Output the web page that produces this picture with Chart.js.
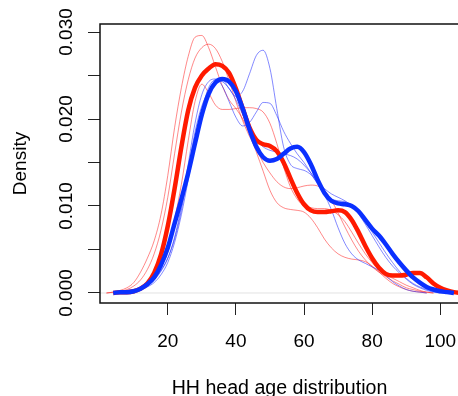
<!DOCTYPE html>
<html>
<head>
<meta charset="utf-8">
<script src="https://cdn.jsdelivr.net/npm/chart.js@4.4.1/dist/chart.umd.min.js"></script>
<style>
html, body { margin: 0; padding: 0; overflow: hidden; background: #ffffff; }
#wrap { width: 462px; height: 396px; }
</style>
</head>
<body>
<div id="wrap"><canvas id="c" width="462" height="396"></canvas></div>
<script>
// ---- data (age grid, density values) ----
const ageGrid = [2,4,6,8,10,12,14,16,18,20,22,24,26,28,30,32,34,36,38,40,42,44,46,48,50,52,54,56,58,60,62,64,66,68,70,72,74,76,78,80,82,84,86,88,90,92,94,96,98,100,102,104,106];

const redMean = [null,0,0.0001,0.0001,0.0002,0.0005,0.0011,0.0023,0.0044,0.0077,0.0120,0.0168,0.0210,0.0236,0.0250,0.0258,0.0263,0.0261,0.0253,0.0235,0.0212,0.0190,0.0176,0.0171,0.0169,0.0163,0.0150,0.0132,0.0115,0.0102,0.0095,0.0093,0.0093,0.0094,0.0095,0.0093,0.0084,0.0070,0.0054,0.0040,0.0029,0.0022,0.0020,0.0020,0.0021,0.0023,0.0023,0.0018,0.0011,0.0006,0.0003,0.0001,0];

const blueMean = [null,0,0.0001,0.0001,0.0002,0.0005,0.0010,0.0018,0.0032,0.0052,0.0080,0.0108,0.0138,0.0172,0.0205,0.0229,0.0242,0.0246,0.0243,0.0232,0.0212,0.0188,0.0168,0.0156,0.0152,0.0154,0.0160,0.0166,0.0168,0.0162,0.0148,0.0130,0.0115,0.0106,0.0103,0.0102,0.0100,0.0094,0.0084,0.0074,0.0066,0.0056,0.0045,0.0035,0.0026,0.0018,0.0012,0.0007,0.0004,0.0002,0.0001,0,null];

const redA = [0,0.0001,0.0003,0.0006,0.0012,0.0024,0.0040,0.0060,0.0090,0.0135,0.0190,0.0236,0.0272,0.0294,0.0296,0.0282,0.0260,0.0238,0.0222,0.0212,0.0200,0.0183,0.0162,0.0140,0.0118,0.0104,0.0098,0.0096,0.0095,0.0093,0.0086,0.0075,0.0062,0.0052,0.0045,0.0041,0.0039,0.0038,0.0036,0.0031,0.0024,0.0017,0.0011,0.0007,0.0004,0.0002,0.0001,0,null,null,null,null,null];

const redB = [0,0.0001,0.0002,0.0004,0.0008,0.0015,0.0027,0.0045,0.0072,0.0110,0.0160,0.0208,0.0245,0.0270,0.0282,0.0286,0.0281,0.0266,0.0244,0.0220,0.0198,0.0180,0.0165,0.0150,0.0138,0.0128,0.0122,0.0120,0.0121,0.0123,0.0124,0.0123,0.0118,0.0107,0.0092,0.0076,0.0061,0.0048,0.0038,0.0030,0.0024,0.0019,0.0014,0.0010,0.0006,0.0004,0.0002,0.0001,0,null,null,null,null];

const redC = [null,0,0.0001,0.0001,0.0002,0.0005,0.0010,0.0020,0.0034,0.0055,0.0085,0.0125,0.0175,0.0220,0.0240,0.0230,0.0216,0.0211,0.0211,0.0212,0.0213,0.0213,0.0212,0.0208,0.0195,0.0172,0.0145,0.0122,0.0108,0.0100,0.0098,0.0097,0.0097,0.0095,0.0090,0.0082,0.0070,0.0057,0.0045,0.0035,0.0027,0.0021,0.0017,0.0013,0.0009,0.0006,0.0003,0.0001,0,null,null,null,null];

const blueD = [null,0,0.0001,0.0002,0.0003,0.0006,0.0010,0.0016,0.0026,0.0040,0.0062,0.0095,0.0140,0.0185,0.0215,0.0232,0.0244,0.0245,0.0235,0.0226,0.0232,0.0252,0.0273,0.0279,0.0258,0.0212,0.0168,0.0148,0.0143,0.0141,0.0136,0.0126,0.0113,0.0096,0.0075,0.0057,0.0045,0.0038,0.0034,0.0030,0.0026,0.0020,0.0013,0.0008,0.0004,0.0002,0.0001,0,null,null,null,null,null];

const blueE = [null,0,0.0001,0.0002,0.0003,0.0005,0.0009,0.0015,0.0025,0.0040,0.0064,0.0100,0.0148,0.0195,0.0228,0.0243,0.0246,0.0238,0.0220,0.0202,0.0192,0.0196,0.0208,0.0219,0.0218,0.0204,0.0186,0.0172,0.0160,0.0150,0.0138,0.0125,0.0114,0.0108,0.0106,0.0105,0.0101,0.0093,0.0082,0.0070,0.0058,0.0046,0.0035,0.0025,0.0017,0.0011,0.0007,0.0004,0.0002,0.0001,0,null,null];

const blueF = [null,0,0.0001,0.0001,0.0002,0.0004,0.0007,0.0012,0.0021,0.0035,0.0058,0.0090,0.0130,0.0172,0.0210,0.0236,0.0245,0.0243,0.0235,0.0222,0.0205,0.0188,0.0176,0.0168,0.0164,0.0162,0.0160,0.0158,0.0154,0.0147,0.0138,0.0128,0.0120,0.0114,0.0110,0.0106,0.0100,0.0091,0.0079,0.0066,0.0053,0.0041,0.0031,0.0023,0.0016,0.0010,0.0006,0.0003,0.0001,0,null,null,null];

const xTickValues = [20, 40, 60, 80, 100];
const yTickValues = [0, 0.005, 0.010, 0.015, 0.020, 0.025, 0.030];
const yTickLabels = ['0.000', '', '0.010', '', '0.020', '', '0.030'];
const xTitle = 'HH head age distribution';
const yTitle = 'Density';

// ---- chart ----
const FONT = "19px 'Liberation Sans', Arial, Helvetica, sans-serif";
const TITLE_FONT = "19.6px 'Liberation Sans', Arial, Helvetica, sans-serif";
const pts = arr => ageGrid.map((x, i) => ({ x: x, y: arr[i] }));
const thin = (arr, col) => ({ data: pts(arr), borderColor: col, borderWidth: 1, pointRadius: 0, cubicInterpolationMode: 'monotone', spanGaps: false });

const decor = {
  id: 'decor',
  beforeDatasetsDraw(chart) {
    const { ctx, chartArea: a, scales: { y } } = chart;
    const py = y.getPixelForValue(0);
    ctx.save();
    ctx.strokeStyle = '#e2e2e2';
    ctx.lineWidth = 1;
    ctx.beginPath();
    ctx.moveTo(a.left, py);
    ctx.lineTo(a.right, py);
    ctx.stroke();
    ctx.restore();
  },
  afterDraw(chart) {
    const { ctx, chartArea: a, scales: { x, y } } = chart;
    ctx.save();
    ctx.strokeStyle = '#111';
    ctx.lineWidth = 1.5;
    ctx.strokeRect(a.left, a.top, a.right - a.left, a.bottom - a.top);
    ctx.fillStyle = '#000';
    ctx.font = FONT;
    ctx.textAlign = 'center';
    ctx.textBaseline = 'alphabetic';
    x.ticks.forEach(t => {
      ctx.fillText(String(t.value), x.getPixelForValue(t.value), 347);
    });
    yTickValues.forEach((v, i) => {
      if (!yTickLabels[i]) return;
      ctx.save();
      ctx.translate(72, y.getPixelForValue(v));
      ctx.rotate(-Math.PI / 2);
      ctx.fillText(yTickLabels[i], 0, 0);
      ctx.restore();
    });
    ctx.font = TITLE_FONT;
    ctx.fillText(xTitle, (a.left + a.right) / 2, 393.5);
    ctx.save();
    ctx.translate(25.5, (a.top + a.bottom) / 2);
    ctx.rotate(-Math.PI / 2);
    ctx.font = FONT;
    ctx.fillText(yTitle, 0, 0);
    ctx.restore();
    ctx.restore();
  }
};

new Chart(document.getElementById('c'), {
  type: 'line',
  data: {
    datasets: [
      Object.assign(thin(blueMean, '#0a30ff'), { borderWidth: 4.5 }),
      Object.assign(thin(redMean, '#ff1a00'), { borderWidth: 4.5 }),
      thin(blueD, 'rgba(30,40,255,0.55)'),
      thin(blueE, 'rgba(30,40,255,0.55)'),
      thin(blueF, 'rgba(30,40,255,0.55)'),
      thin(redA, 'rgba(255,20,20,0.5)'),
      thin(redB, 'rgba(255,20,20,0.5)'),
      thin(redC, 'rgba(255,20,20,0.5)')
    ]
  },
  options: {
    responsive: false,
    devicePixelRatio: 1,
    animation: false,
    events: [],
    layout: { padding: { top: 24, right: 3, left: 0, bottom: 0 } },
    plugins: { legend: { display: false }, tooltip: { enabled: false } },
    scales: {
      x: {
        type: 'linear',
        min: 0.1,
        max: 105.5,
        afterBuildTicks: s => { s.ticks = xTickValues.map(v => ({ value: v })); },
        afterFit: s => { s.height = 93; },
        ticks: { display: false },
        grid: { drawOnChartArea: false, drawTicks: true, tickLength: 12, color: '#222', lineWidth: 1 },
        border: { display: false }
      },
      y: {
        type: 'linear',
        min: -0.00115,
        max: 0.03092,
        afterBuildTicks: s => { s.ticks = yTickValues.map(v => ({ value: v })); },
        afterFit: s => { s.width = 100; },
        ticks: { display: false },
        grid: { drawOnChartArea: false, drawTicks: true, tickLength: 12, color: '#222', lineWidth: 1 },
        border: { display: false }
      }
    }
  },
  plugins: [decor]
});
</script>
</body>
</html>
